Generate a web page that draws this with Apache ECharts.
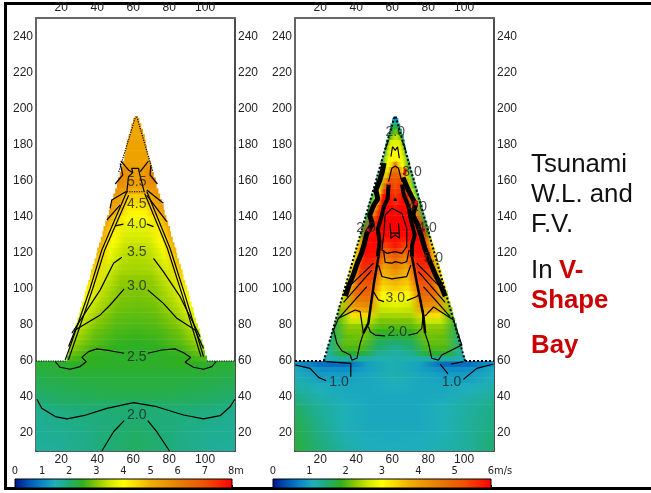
<!DOCTYPE html>
<html>
<head>
<meta charset="utf-8">
<style>
    html, body { margin: 0; padding: 0; background: #fff; }
    #main { width: 651px; height: 493px; }
    #frame { position: absolute; left: 4px; top: 2px; right: -4px; height: 482px; border: 3px solid #000; border-right: none; }
</style>
</head>
<body>
<div id="frame"></div>
<div id="main" style="position: absolute; left: 0; top: 0;"></div>
<script src="https://cdn.jsdelivr.net/npm/echarts@6/dist/echarts.min.js"></script>
<script>
var xTicks = [20, 40, 60, 80, 100];
var yTicks = [20, 40, 60, 80, 100, 120, 140, 160, 180, 200, 220, 240];

// colour bar, 17 even steps from low to high
var barColors = ['#00128c', '#0054b4', '#0a86c8', '#1fb0bc', '#1fac70', '#2fb020', '#88c800', '#d0e800', '#ffff00',
    '#f8d800', '#f0b000', '#ec9800', '#e88000', '#ec6800', '#f05000', '#f82800', '#ff0000'];

// each row: y, left x, right x, then values read evenly across the row
var waterRows = [
    [9, 6, 116.6, 1.72, 1.76, 1.84, 1.98, 2.1, 1.98, 1.84, 1.76, 1.72],
    [12, 6, 116.6, 1.72, 1.76, 1.84, 1.98, 2.1, 1.98, 1.84, 1.76, 1.72],
    [15, 6, 116.6, 1.75, 1.78, 1.85, 1.98, 2.08, 1.98, 1.85, 1.78, 1.75],
    [18, 6, 116.6, 1.75, 1.78, 1.85, 1.97, 2.07, 1.97, 1.85, 1.78, 1.75],
    [21, 6, 116.6, 1.75, 1.8, 1.87, 1.97, 2.05, 1.97, 1.87, 1.8, 1.75],
    [24, 6, 116.6, 1.75, 1.82, 1.88, 1.95, 2.02, 1.95, 1.88, 1.82, 1.75],
    [27, 6, 116.6, 1.78, 1.85, 1.9, 1.95, 2.0, 1.95, 1.9, 1.85, 1.78],
    [30, 6, 116.6, 1.8, 1.88, 1.95, 1.97, 1.98, 1.97, 1.95, 1.88, 1.8],
    [33, 6, 116.6, 1.85, 1.95, 2.0, 2.0, 1.99, 2.0, 2.0, 1.95, 1.85],
    [36, 6, 116.6, 1.95, 2.05, 2.08, 2.1, 2.05, 2.1, 2.08, 2.05, 1.95],
    [39, 6, 116.6, 2.0, 2.1, 2.15, 2.2, 2.2, 2.2, 2.15, 2.1, 2.0],
    [42, 6, 116.6, 2.1, 2.15, 2.2, 2.25, 2.25, 2.25, 2.2, 2.15, 2.1],
    [45, 6, 116.6, 2.15, 2.2, 2.25, 2.28, 2.3, 2.28, 2.25, 2.2, 2.15],
    [48, 6, 116.6, 2.2, 2.25, 2.3, 2.3, 2.3, 2.3, 2.3, 2.25, 2.2],
    [51, 6, 116.6, 2.25, 2.3, 2.35, 2.35, 2.35, 2.35, 2.35, 2.3, 2.25],
    [54, 6, 116.6, 2.3, 2.35, 2.4, 2.4, 2.4, 2.4, 2.4, 2.35, 2.3],
    [57, 6, 116.6, 2.35, 2.4, 2.5, 2.45, 2.45, 2.45, 2.5, 2.4, 2.35],
    [60, 23, 101, 2.7, 2.5, 2.45, 2.4, 2.45, 2.5, 2.7],
    [63, 24, 100, 2.9, 2.55, 2.45, 2.45, 2.45, 2.55, 2.9],
    [66, 24.5, 99.5, 3.1, 2.65, 2.5, 2.45, 2.5, 2.65, 3.1],
    [69, 25.5, 98.5, 3.2, 2.75, 2.55, 2.5, 2.55, 2.75, 3.2],
    [72, 26.5, 97.5, 3.3, 2.8, 2.6, 2.55, 2.6, 2.8, 3.3],
    [75, 27, 97, 3.4, 2.85, 2.65, 2.6, 2.65, 2.85, 3.4],
    [78, 28, 96, 3.5, 2.95, 2.7, 2.65, 2.7, 2.95, 3.5],
    [81, 29, 95, 3.6, 3.0, 2.75, 2.7, 2.75, 3.0, 3.6],
    [84, 30, 94, 3.7, 3.1, 2.8, 2.75, 2.8, 3.1, 3.7],
    [87, 30.5, 93.5, 3.8, 3.2, 2.85, 2.8, 2.85, 3.2, 3.8],
    [90, 31.5, 92.5, 3.9, 3.25, 2.9, 2.85, 2.9, 3.25, 3.9],
    [93, 32.5, 91.5, 4.0, 3.3, 2.95, 2.88, 2.95, 3.3, 4.0],
    [96, 33, 91, 4.1, 3.35, 2.98, 2.92, 2.98, 3.35, 4.1],
    [99, 34, 90, 4.2, 3.4, 3.0, 2.95, 3.0, 3.4, 4.2],
    [102, 35, 89, 4.4, 3.45, 3.05, 3.0, 3.05, 3.45, 4.4],
    [105, 36, 88, 4.5, 3.5, 3.1, 3.05, 3.1, 3.5, 4.5],
    [108, 36.5, 87.5, 4.6, 3.55, 3.2, 3.15, 3.2, 3.55, 4.6],
    [111, 37.5, 86.5, 4.7, 3.6, 3.25, 3.2, 3.25, 3.6, 4.7],
    [114, 38.5, 85.5, 4.8, 3.7, 3.3, 3.25, 3.3, 3.7, 4.8],
    [117, 39.5, 84.5, 4.9, 3.8, 3.35, 3.3, 3.35, 3.8, 4.9],
    [120, 40, 84, 5.0, 3.85, 3.4, 3.35, 3.4, 3.85, 5.0],
    [123, 41, 83, 5.1, 3.95, 3.45, 3.4, 3.45, 3.95, 5.1],
    [126, 42, 82, 5.2, 4.05, 3.55, 3.5, 3.55, 4.05, 5.2],
    [129, 43, 81, 5.2, 4.15, 3.65, 3.6, 3.65, 4.15, 5.2],
    [132, 43.5, 80.5, 5.3, 4.25, 3.7, 3.65, 3.7, 4.25, 5.3],
    [135, 44.5, 79.5, 5.3, 4.4, 3.8, 3.75, 3.8, 4.4, 5.3],
    [138, 45.5, 78.5, 5.4, 4.5, 3.95, 3.9, 3.95, 4.5, 5.4],
    [141, 46.5, 77.5, 5.4, 4.8, 4.15, 4.1, 4.15, 4.8, 5.4],
    [144, 47, 77, 5.5, 5.0, 4.3, 4.25, 4.3, 5.0, 5.5],
    [147, 48, 76, 5.5, 5.2, 4.5, 4.5, 4.5, 5.2, 5.5],
    [150, 49, 75, 5.5, 5.2, 4.7, 4.6, 4.7, 5.2, 5.5],
    [153, 50, 74, 5.6, 5.4, 5.1, 5.0, 5.1, 5.4, 5.6],
    [156, 51, 73, 5.7, 5.6, 5.4, 5.3, 5.4, 5.6, 5.7],
    [159, 51.5, 72.5, 5.9, 5.7, 5.5, 5.4, 5.5, 5.7, 5.9],
    [162, 52.5, 71.5, 5.9, 5.7, 5.4, 5.4, 5.4, 5.7, 5.9],
    [165, 53.5, 70.5, 5.8, 5.6, 5.4, 5.3, 5.4, 5.6, 5.8],
    [168, 54, 70, 5.5, 5.4, 5.3, 5.3, 5.3, 5.4, 5.5],
    [171, 55, 69, 5.3, 5.3, 5.3, 5.3, 5.3, 5.3, 5.3],
    [174, 55.5, 68, 5.3, 5.3, 5.3, 5.3, 5.3],
    [177, 56, 67.5, 5.3, 5.3, 5.3, 5.3, 5.3],
    [180, 56.5, 67, 5.3, 5.3, 5.3, 5.3, 5.3],
    [183, 57.5, 66.5, 5.3, 5.2, 5.2, 5.2, 5.3],
    [186, 58.5, 65.5, 5.3, 5.2, 5.2, 5.2, 5.3],
    [189, 59, 64.5, 5.3, 5.2, 5.3],
    [192, 60, 63.5, 5.3, 5.2, 5.3],
    [193, 61, 62.5, 5.3, 5.3]
];

var speedRows = [
    [9, 6, 116.6, 1.75, 1.45, 1.25, 1.1, 1.1, 1.1, 1.2, 1.3, 1.5],
    [12, 6, 116.6, 1.75, 1.45, 1.25, 1.1, 1.1, 1.1, 1.2, 1.3, 1.5],
    [15, 6, 116.6, 1.72, 1.42, 1.2, 1.1, 1.08, 1.1, 1.18, 1.3, 1.48],
    [18, 6, 116.6, 1.7, 1.4, 1.18, 1.08, 1.07, 1.08, 1.16, 1.3, 1.45],
    [21, 6, 116.6, 1.68, 1.38, 1.16, 1.06, 1.06, 1.06, 1.15, 1.3, 1.42],
    [24, 6, 116.6, 1.65, 1.35, 1.15, 1.05, 1.05, 1.05, 1.15, 1.3, 1.4],
    [27, 6, 116.6, 1.62, 1.35, 1.15, 1.05, 1.05, 1.05, 1.15, 1.3, 1.4],
    [30, 6, 116.6, 1.6, 1.3, 1.15, 1.05, 1.05, 1.05, 1.15, 1.28, 1.4],
    [33, 6, 116.6, 1.55, 1.3, 1.15, 1.05, 1.05, 1.05, 1.15, 1.28, 1.38],
    [36, 6, 116.6, 1.45, 1.25, 1.1, 1.05, 1.05, 1.05, 1.1, 1.25, 1.35],
    [39, 6, 116.6, 1.38, 1.2, 1.08, 1.05, 1.05, 1.05, 1.08, 1.2, 1.3],
    [42, 6, 116.6, 1.3, 1.15, 1.05, 1.05, 1.08, 1.05, 1.05, 1.15, 1.25],
    [45, 6, 116.6, 1.25, 1.1, 1.05, 1.05, 1.1, 1.05, 1.05, 1.1, 1.2],
    [48, 6, 116.6, 1.2, 1.0, 1.0, 1.05, 1.15, 1.05, 1.0, 1.0, 1.15],
    [51, 6, 116.6, 1.1, 0.95, 0.95, 1.05, 1.2, 1.05, 0.95, 0.95, 1.1],
    [54, 6, 116.6, 1.05, 0.85, 0.8, 1.0, 1.2, 1.0, 0.8, 0.85, 1.05],
    [57, 6, 116.6, 0.9, 0.6, 0.55, 1.0, 1.2, 1.0, 0.55, 0.6, 0.9],
    [60, 22, 100.5, 1.1, 1.3, 1.3, 1.2, 1.2, 1.2, 1.3, 1.3, 1.1],
    [63, 23.5, 99.5, 1.2, 1.8, 1.8, 1.35, 1.25, 1.35, 1.8, 1.8, 1.2],
    [66, 24, 99, 1.3, 2.0, 2.0, 1.5, 1.35, 1.5, 2.0, 2.0, 1.3],
    [69, 25, 98, 1.4, 2.1, 2.1, 1.6, 1.5, 1.6, 2.1, 2.1, 1.4],
    [72, 26, 97.5, 1.5, 2.1, 2.15, 1.75, 1.7, 1.75, 2.15, 2.1, 1.5],
    [75, 26.5, 96.5, 1.6, 2.2, 2.2, 1.9, 1.9, 1.9, 2.2, 2.2, 1.6],
    [78, 27.5, 96, 1.7, 2.3, 2.3, 2.05, 2.05, 2.05, 2.3, 2.3, 1.7],
    [81, 28.5, 95, 1.9, 2.6, 2.6, 2.2, 2.2, 2.2, 2.6, 2.6, 1.9],
    [84, 29.5, 94, 2.0, 3.3, 3.4, 2.4, 2.4, 2.4, 3.4, 3.3, 2.0],
    [87, 30, 93.5, 2.2, 3.8, 4.0, 2.55, 2.6, 2.55, 4.0, 3.8, 2.2],
    [90, 31, 92.5, 2.4, 4.2, 4.4, 2.7, 2.8, 2.7, 4.4, 4.2, 2.4],
    [93, 32, 91.5, 2.5, 4.5, 4.7, 2.9, 2.95, 2.9, 4.7, 4.5, 2.5],
    [96, 32.5, 91, 2.6, 4.8, 4.9, 3.1, 3.2, 3.1, 4.9, 4.8, 2.6],
    [99, 33.5, 90, 2.8, 5.0, 5.1, 3.3, 3.5, 3.3, 5.1, 5.0, 2.8],
    [102, 34.5, 89, 2.8, 5.1, 5.2, 3.5, 3.7, 3.5, 5.2, 5.1, 2.8],
    [105, 35.5, 88, 2.8, 5.3, 5.4, 3.6, 3.95, 3.6, 5.4, 5.3, 2.8],
    [108, 36, 87.5, 2.8, 5.4, 5.5, 3.7, 4.2, 3.7, 5.5, 5.4, 2.8],
    [111, 37, 86.5, 2.8, 5.6, 5.6, 3.9, 4.5, 3.9, 5.6, 5.6, 2.8],
    [114, 38, 85.5, 2.8, 5.7, 5.7, 4.2, 4.8, 4.2, 5.7, 5.7, 2.8],
    [117, 39, 84.5, 2.8, 5.8, 5.8, 4.6, 5.1, 4.6, 5.8, 5.8, 2.8],
    [120, 39.5, 84, 2.8, 5.9, 5.9, 5.0, 5.5, 5.0, 5.9, 5.9, 2.8],
    [123, 40.5, 83, 2.8, 5.9, 5.9, 5.4, 5.8, 5.4, 5.9, 5.9, 2.8],
    [126, 41.5, 82, 2.5, 5.9, 6.0, 5.7, 5.9, 5.7, 6.0, 5.9, 2.5],
    [129, 42.5, 81, 2.0, 5.8, 6.0, 5.9, 6.0, 5.9, 6.0, 5.8, 2.0],
    [132, 43, 80.5, 1.8, 5.6, 6.0, 6.0, 6.0, 6.0, 6.0, 5.6, 1.8],
    [135, 44, 79.5, 1.7, 5.4, 6.0, 6.0, 6.0, 6.0, 6.0, 5.4, 1.7],
    [138, 45, 78.5, 1.6, 5.0, 6.0, 6.0, 6.0, 6.0, 6.0, 5.0, 1.6],
    [141, 46, 77.5, 1.6, 4.4, 6.0, 6.0, 5.9, 6.0, 6.0, 4.4, 1.6],
    [144, 46.5, 77, 1.6, 3.8, 5.9, 6.0, 5.8, 6.0, 5.9, 3.8, 1.6],
    [147, 47.5, 76, 1.6, 3.4, 5.9, 5.9, 5.6, 5.9, 5.9, 3.4, 1.6],
    [150, 48.5, 75, 1.6, 3.0, 5.9, 5.8, 5.5, 5.8, 5.9, 3.0, 1.6],
    [153, 49.5, 74, 1.5, 2.8, 5.5, 5.6, 5.4, 5.6, 5.5, 2.8, 1.5],
    [156, 50.5, 73, 1.4, 2.5, 5.0, 5.5, 5.2, 5.5, 5.0, 2.5, 1.4],
    [159, 51, 72.5, 1.4, 2.5, 4.2, 5.3, 5.1, 5.3, 4.2, 2.5, 1.4],
    [162, 52, 71.5, 1.3, 2.5, 3.5, 5.0, 5.0, 5.0, 3.5, 2.5, 1.3],
    [165, 53, 70.5, 1.3, 2.4, 3.2, 4.2, 4.8, 4.2, 3.2, 2.4, 1.3],
    [168, 53.5, 70, 1.4, 2.3, 3.0, 3.4, 4.6, 3.4, 3.0, 2.3, 1.4],
    [171, 54.5, 69, 1.4, 2.5, 2.9, 3.0, 3.1, 3.0, 2.9, 2.5, 1.4],
    [174, 55.5, 68, 1.4, 2.5, 2.9, 3.0, 3.0, 3.0, 2.9, 2.5, 1.4],
    [177, 56, 67.5, 1.4, 2.4, 2.8, 2.9, 2.9, 2.9, 2.8, 2.4, 1.4],
    [180, 56.5, 67, 1.4, 2.2, 2.7, 2.8, 2.8, 2.8, 2.7, 2.2, 1.4],
    [183, 57.5, 66.5, 1.3, 1.9, 2.3, 2.5, 2.6, 2.5, 2.3, 1.9, 1.3],
    [186, 58.5, 65.5, 1.2, 1.7, 2.0, 2.2, 2.0, 1.7, 1.2],
    [189, 59, 64.5, 1.1, 1.5, 1.75, 1.5, 1.1],
    [192, 60, 63.5, 1.0, 1.2, 1.0],
    [193, 61, 62.5, 0.85, 0.85]
];

// contour lines, [x, y]
var waterContours = [
    [[6.5, 38.7], [9.2, 33.7], [16.7, 29.1], [23.1, 27.8], [32.4, 29.6], [45.4, 33.7], [60.2, 36.9], [73.1, 34.6], [88, 30], [99.1, 27.8], [108.3, 29.6], [113.9, 34.6], [116.6, 38.9]],
    [[42.6, 10], [49.1, 20.7], [55, 26.9]],
    [[68.1, 26.9], [73.1, 20.7], [80.2, 10]],
    [[16.7, 59.6], [19.4, 56.5], [25, 55.4], [30.5, 56.9], [33.9, 59.6], [31.5, 62], [35.2, 65.2], [39.8, 66.7], [47.2, 65.7], [55, 64.3]],
    [[68.1, 64.3], [75.9, 66.1], [83.3, 66.7], [88, 64.6], [92, 62], [88.9, 59.3], [93.5, 56.5], [99.1, 55.4], [103.7, 56.9], [106.1, 59.6]],
    [[24.1, 68], [27.8, 77.2], [41.7, 85.6], [47.2, 91.1], [53.7, 98.5], [55, 100]],
    [[68.1, 99.5], [76.8, 92], [84.3, 83.7], [94.4, 77.2], [99.1, 67]],
    [[25.9, 75.4], [41.7, 99.5], [49.1, 114.3], [53.7, 117.6]],
    [[71.3, 117], [76.8, 109.6], [86.1, 95.7], [97.2, 73.5]],
    [[22.2, 60.6], [25.9, 70.7], [36.1, 100.4], [42.6, 121.7], [56.5, 154.1]],
    [[24, 60.6], [27.5, 70.7], [37.6, 100.4], [44.2, 121.7], [57.5, 152]],
    [[67.6, 154.1], [80.5, 122.6], [89, 96], [99.1, 62.4]],
    [[66.4, 153], [79, 122.6], [87.5, 96], [97.7, 62.4]],
    [[56.5, 154.1], [57.4, 162.4], [59.8, 164.6], [59.2, 167], [63, 167], [63.5, 164.3], [66.1, 154.1]],
    [[53.1, 171.1], [57.4, 166.1], [59.8, 164.6]],
    [[68.5, 171], [63.9, 165.2]],
    [[52.8, 169.8], [54.2, 163.3], [50, 158.3]],
    [[69.8, 168.5], [69.4, 163.3], [73.5, 158.3]],
    [[56.1, 154.1], [48.1, 149.4], [47.2, 144.8]],
    [[67.6, 155], [76.8, 147.6]],
    [[52.8, 146.7], [45.4, 138.3]],
    [[67.6, 152], [78.7, 137.4]],
    [[50, 135], [54.6, 136]],
    [[67.6, 136], [71.3, 134.6]]
];
var waterDotted = [
    [[6, 60], [22.5, 60]],
    [[101, 60], [116.6, 60]],
    [[56.5, 154], [66.5, 154]],
    [[52, 165], [61.3, 195.7]],
    [[62, 195.7], [71, 165]]
];
var waterLabels = ['5.5', '4.5', '4.0', '3.5', '3.0', '2.5', '2.0'];
var waterLabelSpots = [[62, 159.4], [62, 147], [62, 136], [62, 120.5], [62, 101.7], [62, 62.2], [62, 30]];

var speedContours = [
    [[46.8, 79.1], [47.8, 76.3], [50.6, 74.4], [56.1, 73.9]],
    [[69.1, 74.4], [73.7, 75.4], [76.5, 78.1], [77.4, 88]],
    [[44, 75.4], [42.2, 69.8], [40.4, 61.5], [37.6, 60.5], [36.7, 63.3], [32, 65.7], [29.3, 69.8], [27.4, 77.2], [30.2, 83.7], [39.4, 88.3], [42.2, 87.4], [44, 75.4]],
    [[78.3, 75.4], [80.2, 69.8], [82, 61.5], [85.7, 60.5], [87.6, 63.3], [98.7, 68.9], [94.1, 82.8], [83, 90], [78.3, 85]],
    [[30.2, 83.7], [45.9, 101.3]],
    [[33, 92.5], [48.7, 110.5]],
    [[35.7, 101], [49.6, 114.3]],
    [[92.2, 84.6], [77.4, 101.3]],
    [[89.4, 92.5], [74.6, 109.6]],
    [[86.7, 101], [73.7, 114.3]],
    [[49.6, 98.5], [52.4, 93.9], [55.5, 93]],
    [[68.1, 93.5], [73.7, 95.8], [75.5, 97.6]],
    [[52.4, 113.3], [54.3, 106.9], [59.8, 105.6], [68.1, 106.9], [70.4, 113.3]],
    [[55.2, 121.7], [56.1, 114.8], [59.8, 114.3], [61.7, 115.2], [65.4, 114.3], [68.1, 115.2], [69.4, 121.7]],
    [[55.6, 132.8], [54.3, 121.7], [57, 119.8], [61.7, 120.7], [65.4, 119.8], [68.1, 123.5], [68.1, 133.7], [65.4, 142], [59.8, 144.8], [56.1, 141.1], [55.6, 132.8]],
    [[58.9, 136.5], [59.3, 128.1], [61.7, 130], [64.1, 128.1], [63.5, 136.5]],
    [[59.3, 131], [64.1, 131]],
    [[61, 149.2], [61.7, 150.4], [62.4, 149.2], [61, 149.2]],
    [[58, 159.6], [59.8, 167], [61.7, 168.3], [63.5, 167], [65.4, 159.6]],
    [[59.3, 173.5], [60.2, 179], [61.7, 177], [63, 179], [64, 172.6]],
    [[56.1, 177.2], [58, 182.8]],
    [[65.4, 182.8], [67.7, 176.7]],
    [[6.1, 57.8], [14.4, 55.9], [19.1, 50.9], [23.3, 49]],
    [[21.9, 60.2], [23.7, 59.6], [37, 58.7], [37, 51.3]],
    [[86.7, 58.3], [91, 52.8]],
    [[99.6, 49.8], [107, 55.9], [116.3, 58.3]],
    [[92.6, 58.3], [99.6, 59.6]]
];
// the bunched up lines along both slopes read as solid black
var speedBlobs = [
    [[55.5, 170], [54.5, 165], [53, 160], [51, 155], [52, 150], [50, 147], [47.5, 141], [49, 136], [46, 131], [44.5, 125], [43, 120], [40.5, 114], [38.5, 108], [36, 102], [34, 96]],
    [[58, 158], [57.5, 150], [55.5, 146], [54, 140], [52, 133], [53, 126], [52, 118]],
    [[65.5, 158], [66.5, 152], [69, 146], [70.5, 138], [72.5, 130], [71, 124], [71, 118]],
    [[66, 162], [68.5, 156], [70.5, 152], [73, 147], [71.5, 141], [74, 136], [76, 130], [78, 123], [81, 115], [84, 108], [87, 102], [89.5, 96]],
    [[52.4, 118], [50, 104], [48, 90], [46.8, 81], [44, 75.4]],
    [[71, 118], [74, 102], [76, 92], [77.4, 85], [78.3, 75.4]]
];
var speedBlobWidths = [5, 4, 4, 5, 2.5, 2.5];
var speedDotted = [
    [[6, 60], [22, 60]],
    [[100.5, 60], [116.6, 60]],
    [[22, 60], [61.3, 195.7]],
    [[62, 195.7], [100.5, 60]]
];
// red flecks left by the plotter next to some labels
var speedFlecks = [
    [[67, 163.5], [67.3, 167]],
    [[73, 146.5], [73.5, 149]],
    [[77.2, 131.8], [77.6, 133.6]],
    [[78, 117], [78.6, 119]],
    [[46.6, 132], [47.2, 133.6]]
];
var speedLabels = ['2.0', '3.0', '4.0', '2.0', '4.0', '5.0', '3.0', '2.0', '1.0', '1.0'];
var speedLabelSpots = [[61.7, 187], [71, 165], [74, 145.5], [45.5, 134], [79.4, 134], [82.8, 117], [61.7, 95], [62.8, 76], [30.5, 48], [93, 48]];

var chartFont = 'Liberation Sans';
var myChart = echarts.init(document.getElementById('main'));

function stripSeries(rows, top, xIndex, yIndex) {
    return {
        type: 'custom',
        xAxisIndex: xIndex,
        yAxisIndex: yIndex,
        clip: true,
        silent: true,
        encode: { x: 0, y: 1 },
        data: rows.map(function (r) { return [r[1], r[0]]; }),
        renderItem: function (params, api) {
            var r = rows[params.dataIndex];
            var a = api.coord([r[1], r[0] + 3]);
            var b = api.coord([r[2], r[0]]);
            var vals = r.slice(3);
            var stops = vals.map(function (v, i) {
                return { offset: i / (vals.length - 1), color: echarts.color.lerp(Math.min(v / top, 1), barColors) };
            });
            return {
                type: 'rect',
                shape: { x: a[0], y: a[1], width: b[0] - a[0], height: b[1] - a[1] + 0.5 },
                style: { fill: new echarts.graphic.LinearGradient(0, 0, 1, 0, stops) }
            };
        }
    };
}

function lineSeries(points, xIndex, yIndex, width, type, color) {
    return {
        type: 'line',
        xAxisIndex: xIndex,
        yAxisIndex: yIndex,
        showSymbol: false,
        silent: true,
        lineStyle: { color: color || '#000', width: width, type: type },
        data: points
    };
}

function labelSeries(names, spots, xIndex, yIndex) {
    return {
        type: 'scatter',
        xAxisIndex: xIndex,
        yAxisIndex: yIndex,
        symbolSize: 0,
        silent: true,
        z: 5,
        label: {
            show: true,
            position: 'inside',
            color: '#222',
            fontSize: 14,
            fontFamily: chartFont,
            formatter: function (p) { return p.name; }
        },
        data: spots.map(function (s, i) { return { name: names[i], value: s }; })
    };
}

function barSeries(xIndex, yIndex) {
    return {
        type: 'custom',
        xAxisIndex: xIndex,
        yAxisIndex: yIndex,
        silent: true,
        data: [[0, 0]],
        renderItem: function (params, api) {
            var box = params.coordSys;
            var stops = barColors.map(function (c, i) { return { offset: i / (barColors.length - 1), color: c }; });
            return {
                type: 'rect',
                shape: { x: box.x, y: box.y, width: box.width, height: box.height },
                style: { fill: new echarts.graphic.LinearGradient(0, 0, 1, 0, stops), stroke: '#000', lineWidth: 1 }
            };
        }
    };
}

function plotXAxis(grid, pos, color) {
    return {
        gridIndex: grid, type: 'value', position: pos, min: 6, max: 116.6,
        splitLine: { show: false },
        axisTick: { show: false },
        axisLine: { onZero: false, lineStyle: { color: color, width: pos == 'top' ? 2 : 1.5 } },
        axisLabel: { margin: pos == 'top' ? 4 : 3, color: '#222', fontSize: 12, fontFamily: chartFont, customValues: xTicks }
    };
}

function plotYAxis(grid, pos, color) {
    return {
        gridIndex: grid, type: 'value', position: pos, min: 10, max: 250.5,
        splitLine: { show: false },
        axisTick: { show: false },
        axisLine: { onZero: false, lineStyle: { color: color, width: pos == 'left' ? 2 : 1.5 } },
        axisLabel: { margin: 3, color: '#222', fontSize: 12, fontFamily: chartFont, customValues: yTicks }
    };
}

function barXAxis(grid, top, unit, pad) {
    return {
        gridIndex: grid, type: 'value', position: 'top', min: 0, max: top, interval: 1,
        splitLine: { show: false },
        axisLine: { show: false },
        axisTick: { length: 3, lineStyle: { color: '#000' } },
        axisLabel: {
            margin: 2,
            color: '#222',
            fontSize: 11,
            fontFamily: '"DejaVu Sans Condensed", "Liberation Sans"',
            rich: { pad: { width: pad } },
            formatter: function (v) { return v == top ? '{pad|}' + v + unit : '' + v; }
        }
    };
}

function barYAxis(grid) {
    return { gridIndex: grid, type: 'value', min: 0, max: 1, show: false };
}

var series = [];
series.push(stripSeries(waterRows, 8, 0, 0));
waterContours.forEach(function (c) { series.push(lineSeries(c, 0, 0, 1.2, 'solid')); });
waterDotted.forEach(function (c) { series.push(lineSeries(c, 0, 0, 1.2, 'dotted')); });
series.push(labelSeries(waterLabels, waterLabelSpots, 0, 0));
series.push(stripSeries(speedRows, 6, 2, 2));
speedContours.forEach(function (c) { series.push(lineSeries(c, 2, 2, 1.2, 'solid')); });
speedBlobs.forEach(function (c, i) { series.push(lineSeries(c, 2, 2, speedBlobWidths[i], 'solid')); });
speedDotted.forEach(function (c) { series.push(lineSeries(c, 2, 2, 2, 'dotted')); });
speedFlecks.forEach(function (c) { series.push(lineSeries(c, 2, 2, 3, 'solid', '#f00000')); });
series.push(labelSeries(speedLabels, speedLabelSpots, 2, 2));
series.push(barSeries(4, 4));
series.push(barSeries(5, 5));

var textFont = '25.8px "Liberation Sans"';
var boldFont = 'bold 25.8px "Liberation Sans"';

var option = {
    animation: false,
    backgroundColor: 'transparent',
    grid: [
        { left: 36, top: 18, width: 199, height: 433 },
        { left: 295, top: 18, width: 199, height: 433 },
        { left: 15, top: 479, width: 217, height: 9 },
        { left: 273, top: 479, width: 218, height: 9 }
    ],
    // 0 and 1 water plot, 2 and 3 speed plot, 4 and 5 colour bars
    xAxis: [
        plotXAxis(0, 'bottom', '#222'), plotXAxis(0, 'top', '#666'),
        plotXAxis(1, 'bottom', '#222'), plotXAxis(1, 'top', '#666'),
        barXAxis(2, 8, 'm', 8), barXAxis(3, 6, 'm/s', 18)
    ],
    yAxis: [
        plotYAxis(0, 'left', '#666'), plotYAxis(0, 'right', '#111'),
        plotYAxis(1, 'left', '#666'), plotYAxis(1, 'right', '#111'),
        barYAxis(2), barYAxis(3)
    ],
    series: series,
    graphic: [
        { type: 'text', left: 531, top: 152, style: { text: 'Tsunami', font: textFont, fill: '#111' } },
        { type: 'text', left: 531, top: 182, style: { text: 'W.L. and', font: textFont, fill: '#111' } },
        { type: 'text', left: 531, top: 212, style: { text: 'F.V.', font: textFont, fill: '#111' } },
        { type: 'text', left: 531, top: 258, style: { text: 'In', font: textFont, fill: '#111' } },
        { type: 'text', left: 559, top: 258, style: { text: 'V-', font: boldFont, fill: '#cc0000' } },
        { type: 'text', left: 531, top: 288, style: { text: 'Shape', font: boldFont, fill: '#cc0000' } },
        { type: 'text', left: 531, top: 333, style: { text: 'Bay', font: boldFont, fill: '#cc0000' } }
    ]
};

myChart.setOption(option);
</script>
</body>
</html>
